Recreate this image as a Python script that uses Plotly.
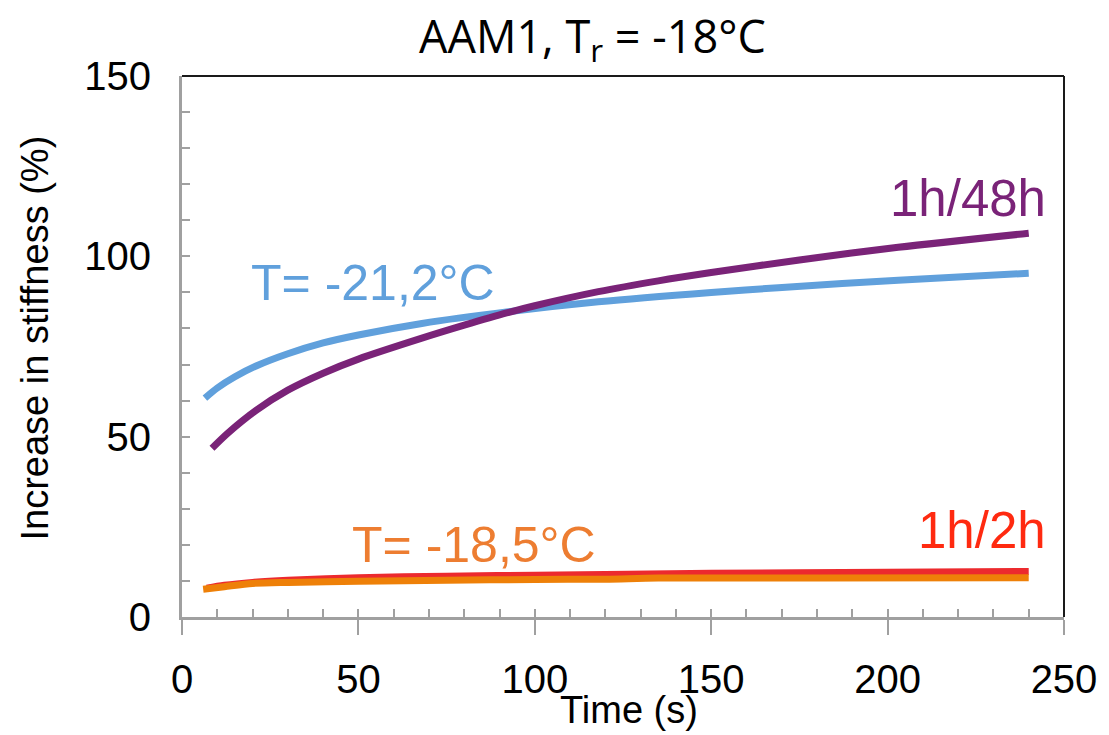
import plotly.graph_objects as go

# Data
t_blue = [6.5, 10, 15, 21, 30, 40, 50, 68, 92, 118, 150, 169, 203, 240]
v_blue = [60.7, 63.5, 66.6, 69.6, 73.0, 76.0, 78.2, 81.4, 84.6, 87.4, 90.0, 91.3, 93.4, 95.3]

t_purple = [8.5, 13, 21, 30, 40, 50, 68, 80, 92, 100, 118, 135, 150, 175, 203, 240]
v_purple = [46.8, 51.0, 57.3, 62.9, 67.6, 71.5, 77.3, 80.9, 84.3, 86.3, 90.2, 93.2, 95.5, 99.0, 102.5, 106.4]

t_red = [7, 12, 20, 30, 50, 75, 100, 150, 200, 240]
v_red = [8.0, 8.8, 9.6, 10.2, 10.9, 11.3, 11.6, 12.1, 12.4, 12.6]

t_orange = [6, 12, 20, 30, 50, 75, 100, 120, 135, 180, 240]
v_orange = [7.7, 8.4, 9.3, 9.6, 9.9, 10.2, 10.4, 10.5, 10.8, 10.8, 10.9]

labels = ["1h/48h", "T= -21,2°C", "1h/2h", "T= -18,5°C"]

C_PURPLE = "#7a2378"
C_BLUE = "#60a0dc"
C_RED = "#ec2a2e"
C_ORANGE = "#ee8008"
C_ORANGE_TXT = "#ed7d31"
C_RED_TXT = "#ff2a10"
AX = "#a0a0a0"
FONT = "Liberation Sans, Arial, sans-serif"

fig = go.Figure()
for t, v, c in [(t_red, v_red, C_RED), (t_orange, v_orange, C_ORANGE),
                (t_blue, v_blue, C_BLUE), (t_purple, v_purple, C_PURPLE)]:
    fig.add_trace(go.Scatter(x=t, y=v, mode="lines",
                             line=dict(color=c, width=7, shape="spline", smoothing=0.8),
                             showlegend=False, hoverinfo="skip"))

# invisible trace on overlay axis for inside minor ticks on x
fig.add_trace(go.Scatter(x=[0, 250], y=[0, 150], xaxis="x2", mode="markers",
                         marker=dict(opacity=0), showlegend=False, hoverinfo="skip"))

# the page body adds an 8px offset; size and margins compensate for it
fig.update_layout(
    width=1101, height=727,
    margin=dict(l=174, r=42, t=68, b=118),
    paper_bgcolor="white", plot_bgcolor="white",
    xaxis=dict(range=[0, 250], tickvals=[0, 50, 100, 150, 200, 250], ticks="outside",
               ticklen=15, tickwidth=2, tickcolor=AX, showline=True, linecolor=AX,
               linewidth=3, showgrid=False, zeroline=False, ticklabelstandoff=10,
               tickfont=dict(family=FONT, size=40, color="#000")),
    xaxis2=dict(range=[0, 250], overlaying="x", side="bottom", dtick=10, tick0=0, ticks="inside",
                ticklen=8, tickwidth=2, tickcolor=AX, showticklabels=False,
                showgrid=False, zeroline=False, showline=False),
    yaxis=dict(range=[0, 150], tickvals=[0, 50, 100, 150], ticks="inside", ticklen=8,
               tickwidth=2, tickcolor=AX, showline=True, linecolor=AX, linewidth=3,
               showgrid=False, zeroline=False, ticklabelstandoff=20,
               minor=dict(dtick=10, tick0=0, ticks="inside", ticklen=8, tickwidth=2, tickcolor=AX),
               tickfont=dict(family=FONT, size=40, color="#000")),
    shapes=[
        dict(type="line", xref="paper", yref="paper", x0=0, x1=1, y0=1, y1=1,
             line=dict(color="#1a1a1a", width=2)),
        dict(type="line", xref="paper", yref="paper", x0=1, x1=1, y0=0, y1=1,
             line=dict(color="#1a1a1a", width=2)),
    ],
    annotations=[
        dict(x=0.5, y=1, xref="paper", yref="paper", xshift=-31, yshift=38,
             text="AAM1, T<sub>r</sub> = -18°C", showarrow=False, xanchor="center", yanchor="middle",
             font=dict(family="Open Sans, Noto Sans, sans-serif", size=45, color="#000")),
        dict(x=0, y=0.5, xref="paper", yref="paper", xshift=-148, yshift=8,
             text="Increase in stiffness (%)", textangle=-90, showarrow=False,
             xanchor="center", yanchor="middle",
             font=dict(family=FONT, size=38, color="#000")),
        dict(x=0.5, y=0, xref="paper", yref="paper", xshift=6, yshift=-93,
             text="Time (s)", showarrow=False, xanchor="center", yanchor="middle",
             font=dict(family=FONT, size=38, color="#000")),
        dict(x=245.5, y=116, xref="x", yref="y", text=labels[0], showarrow=False, xanchor="right",
             font=dict(family=FONT, size=51, color=C_PURPLE)),
        dict(x=19, y=92.6, xref="x", yref="y", text=labels[1], showarrow=False, xanchor="left",
             font=dict(family=FONT, size=50, color=C_BLUE)),
        dict(x=245.5, y=24, xref="x", yref="y", text=labels[2], showarrow=False, xanchor="right",
             font=dict(family=FONT, size=51, color=C_RED_TXT)),
        dict(x=47.5, y=20, xref="x", yref="y", text=labels[3], showarrow=False, xanchor="left",
             font=dict(family=FONT, size=50, color=C_ORANGE_TXT)),
    ],
)

fig.write_html("out.html")
